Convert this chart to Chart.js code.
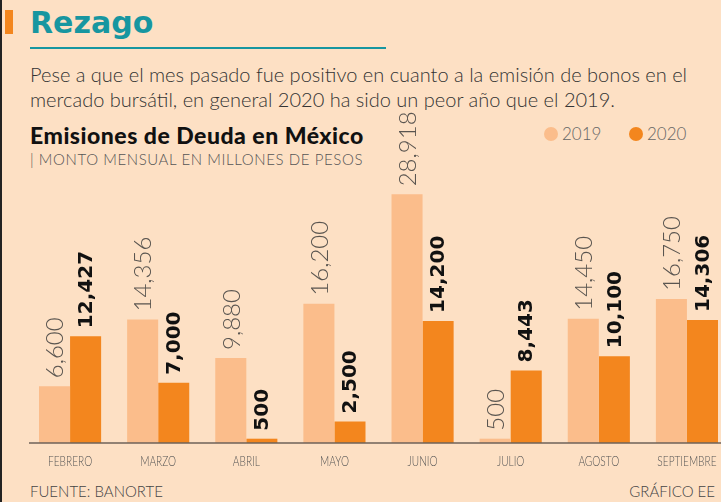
<!DOCTYPE html>
<html>
<head>
<meta charset="utf-8">
<script src="https://cdn.jsdelivr.net/npm/chart.js@4.4.0/dist/chart.umd.min.js"></script>
<style>
  html, body { margin: 0; padding: 0; }
  body {
    width: 721px; height: 502px; overflow: hidden; position: relative;
    background: #fde0c4; font-family: Lato, "DejaVu Sans", sans-serif;
  }
  #frame { position: absolute; left: 0; top: 0; width: 2px; height: 502px; background: #222; }
  #tag { position: absolute; left: 5px; top: 10px; width: 8px; height: 24px; background: #f3861e; }
  #title {
    position: absolute; left: 30px; top: 5px; font-family: "DejaVu Sans", sans-serif;
    font-weight: bold; font-size: 30px; color: #1796a0;
  }
  #rule { position: absolute; left: 30px; top: 47px; width: 356px; height: 2px; background: #1796a0; }
  #intro {
    position: absolute; left: 30px; top: 62px; font-size: 20px; font-weight: 300;
    line-height: 25px; color: #333; width: 690px;
  }
  #ctitle {
    position: absolute; left: 30px; top: 121px; font-size: 23px; font-weight: 900; color: #111;
    letter-spacing: 0.5px;
  }
  #csub {
    position: absolute; left: 30px; top: 150px; font-size: 15px; font-weight: 300; color: #555;
    letter-spacing: 0.6px;
  }
  .leg { position: absolute; top: 123px; font-size: 17px; font-weight: 300; color: #666; }
  .leg i { display: inline-block; width: 14px; height: 14px; border-radius: 7px; margin-right: 4px; vertical-align: -1px; }
  #src { position: absolute; left: 30px; top: 482px; font-size: 15px; font-weight: 300; color: #444; }
  #credit { position: absolute; right: 6px; top: 482px; font-size: 15px; font-weight: 300; color: #444; }
  canvas { position: absolute; left: 0; top: 0; }
</style>
</head>
<body>
<div id="frame"></div>
<div id="tag"></div>
<div id="title">Rezago</div>
<div id="rule"></div>
<div id="intro">Pese a que el mes pasado fue positivo en cuanto a la emisión de bonos en el<br>mercado bursátil, en general 2020 ha sido un peor año que el 2019.</div>
<div id="ctitle">Emisiones de Deuda en México</div>
<div id="csub">| MONTO MENSUAL EN MILLONES DE PESOS</div>
<div class="leg" style="left:544px"><i style="background:#fbbd8b"></i>2019</div>
<div class="leg" style="left:629px"><i style="background:#f3861e"></i>2020</div>
<div id="src">FUENTE: BANORTE</div>
<div id="credit">GRÁFICO EE</div>
<canvas id="chart" width="740" height="502"></canvas>
<script>
const months = ["FEBRERO", "MARZO", "ABRIL", "MAYO", "JUNIO", "JULIO", "AGOSTO", "SEPTIEMBRE"];
const values2019 = [6600, 14356, 9880, 16200, 28918, 500, 14450, 16750];
const values2020 = [12427, 7000, 500, 2500, 14200, 8443, 10100, 14306];

const lightColor = "#fbbd8b";
const darkColor = "#f3861e";

// etiquetas giradas sobre cada barra + meses + linea base
const labelPlugin = {
  id: "barLabels",
  afterDatasetsDraw(chart) {
    const ctx = chart.ctx;
    const xScale = chart.scales.x;
    const yScale = chart.scales.y;
    const base = yScale.getPixelForValue(0);

    ctx.save();
    ctx.strokeStyle = "#6e6258";
    ctx.lineWidth = 1.5;
    ctx.beginPath();
    ctx.moveTo(29, base);
    ctx.lineTo(721, base);
    ctx.stroke();

    chart.data.datasets.forEach((ds, di) => {
      const meta = chart.getDatasetMeta(di);
      meta.data.forEach((bar, i) => {
        ctx.save();
        ctx.translate(bar.x, bar.y - 8);
        ctx.rotate(-Math.PI / 2);
        ctx.textAlign = "left";
        ctx.textBaseline = "middle";
        if (di === 0) {
          ctx.font = "300 24px Lato";
          ctx.fillStyle = "#5a5550";
        } else {
          ctx.font = "bold 20px 'DejaVu Sans'";
          ctx.fillStyle = "#111";
        }
        ctx.fillText(ds.data[i].toLocaleString("en-US"), 0, 1);
        ctx.restore();
      });
    });

    // meses en letra estrecha
    ctx.font = "300 13px Lato";
    ctx.fillStyle = "#555";
    ctx.textAlign = "center";
    ctx.textBaseline = "middle";
    months.forEach((m, i) => {
      ctx.save();
      ctx.translate(xScale.getPixelForValue(i), 462);
      ctx.scale(0.78, 1);
      ctx.fillText(m, 0, 0);
      ctx.restore();
    });
    ctx.restore();
  },
};

const chart = new Chart(document.getElementById("chart"), {
  type: "bar",
  data: {
    labels: months,
    datasets: [
      { label: "2019", data: values2019, backgroundColor: lightColor },
      { label: "2020", data: values2020, backgroundColor: darkColor },
    ],
  },
  options: {
    responsive: false,
    animation: false,
    layout: { padding: { left: 26, right: 9, top: 185, bottom: 59 } },
    datasets: { bar: { categoryPercentage: 0.705, barPercentage: 1.0 } },
    scales: {
      x: { display: false },
      y: { display: false, min: 0, max: 30000 },
    },
    plugins: {
      legend: { display: false },
      tooltip: { enabled: false },
    },
  },
  plugins: [labelPlugin],
});
</script>
</body>
</html>
